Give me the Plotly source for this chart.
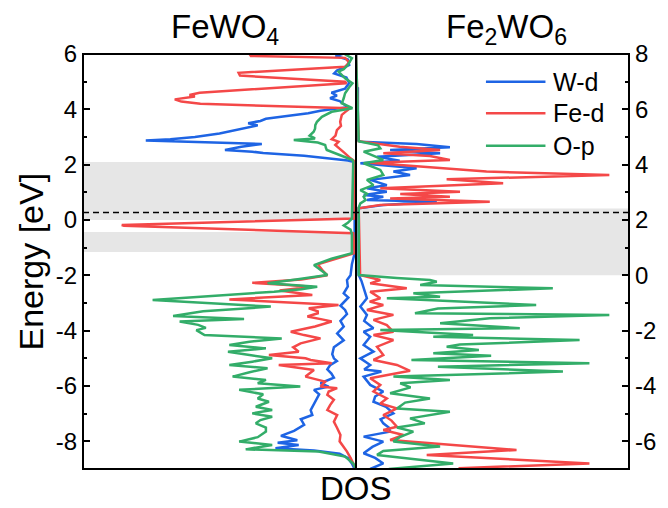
import plotly.graph_objects as go

FONT = "Liberation Sans, Arial, sans-serif"

# ---- FeWO4 (left panel, energies on the left axis) ----
fewo4_e_wd = [6.0, 5.93, 5.8, 5.6, 5.4, 5.3, 5.15, 4.95, 4.75, 4.6, 4.5, 4.4, 4.3, 4.15, 4.08, 3.95, 3.86, 3.75,
              3.66, 3.58, 3.5, 3.42, 3.31, 3.22, 3.13, 3.0, 2.92, 2.87, 2.82, 2.75, 2.65, 2.58, 2.53, 2.47, 2.42,
              2.32, 2.23, 2.15, 2.1,
              -1.2, -1.6, -2.0, -2.17, -2.4, -2.65, -2.8, -3.1, -3.25, -3.4, -3.65, -3.85, -4.1, -4.35, -4.6,
              -4.85, -5.0, -5.1, -5.25, -5.4, -5.55, -5.7, -5.9, -6.02, -6.14, -6.3, -6.5, -6.69, -6.87, -7.05,
              -7.2, -7.4, -7.62, -7.8, -7.96, -8.05, -8.13, -8.25, -8.33, -8.45, -8.6, -8.8, -9.0]
fewo4_dos_wd = [0.5, 0.75, 0.3, 0.25, 0.7, 0.8, 0.35, 0.25, 0.4, 0.9, 0.7, 0.95, 0.6, 0.4, 0.3, 1.3, 1.75, 2.6,
                3.3, 3.5, 3.95, 3.6, 4.15, 4.5, 5.0, 5.9, 6.8, 7.7, 5.5, 3.45, 4.2, 4.6, 4.8, 3.8, 3.4,
                1.9, 0.9, 0.3, 0.05,
                0.05, 0.15, 0.2, 0.33, 0.3, 0.45, 0.28, 0.57, 0.4, 0.33, 0.57, 0.45, 0.69, 0.45, 0.81,
                0.87, 0.81, 0.7, 0.95, 1.05, 0.9, 0.81, 1.3, 1.0, 1.54, 1.35, 1.45, 1.54, 1.66, 1.6,
                2.02, 1.9, 2.27, 2.75, 2.15, 2.87, 2.1, 2.95, 1.54, 0.6, 0.3, 0.15, 0.05]

fewo4_e_fed = [6.0, 5.93, 5.86, 5.7, 5.54, 5.32, 5.22, 5.0, 4.94, 4.6, 4.52, 4.46, 4.36, 4.28, 4.2, 4.04, 3.9,
               3.8, 3.55, 3.4, 3.25, 3.05, 2.92, 2.83, 2.71, 2.53, 2.41, 2.23, 2.12, 0.05, -0.18, -0.21, -0.48,
               -1.2, -1.6, -1.85, -2.0, -2.15, -2.27, -2.35, -2.41, -2.55, -2.71, -2.87, -3.07, -3.19, -3.3,
               -3.37, -3.49, -3.6, -3.67, -3.85, -4.04, -4.16, -4.28, -4.46, -4.6, -4.76, -4.88, -5.0, -5.06,
               -5.18, -5.24, -5.42, -5.55, -5.66, -5.84, -6.02, -6.08, -6.2, -6.32, -6.5, -6.69, -6.87, -7.05,
               -7.29, -7.5, -7.77, -8.0, -8.2, -8.37, -8.6, -8.9, -9.0]
fewo4_dos_fed = [3.9, 3.85, 0.4, 0.25, 0.4, 4.3, 4.25, 0.4, 0.35, 5.73, 6.1, 5.9, 6.64, 6.4, 5.7, 0.22, 0.4,
                 0.52, 0.58, 0.55, 0.7, 0.75, 0.89, 0.64, 0.76, 0.52, 0.4, 0.2, 0.05, 0.05, 8.58, 8.5, 0.1,
                 0.05, 1.4, 1.2, 1.05, 2.0, 3.8, 2.5, 1.6, 2.8, 1.6, 4.64, 0.64, 1.73, 1.4,
                 1.4, 1.78, 1.2, 0.89, 1.5, 2.39, 1.9, 1.3, 2.03, 2.3, 2.1, 3.19, 1.85, 1.66,
                 0.89, 2.83, 1.54, 1.7, 1.85, 1.13, 1.3, 0.69, 1.0, 1.05, 0.81, 0.95, 1.05, 0.69,
                 0.81, 0.7, 0.57, 0.6, 0.45, 0.33, 0.2, 0.05, 0.0]

fewo4_e_op = [6.0, 5.96, 5.85, 5.6, 5.45, 5.36, 5.12, 4.94, 4.8, 4.58, 4.4, 4.22, 4.04, 3.91, 3.73, 3.55, 3.43,
              3.3, 3.19, 3.05, 2.95, 2.89, 2.8, 2.71, 2.6, 2.53, 2.35, 2.17, 2.1, 0.05, -0.1, -0.2, -0.35, -0.5,
              -1.2, -1.4, -1.63, -1.8, -1.99, -2.15, -2.29, -2.41, -2.5, -2.59, -2.89, -3.13, -3.3, -3.47,
              -3.58, -3.67, -3.79, -3.9, -3.98, -4.16, -4.28, -4.4, -4.52, -4.64, -4.76, -4.88, -5.0, -5.12,
              -5.24, -5.36, -5.5, -5.66, -5.78, -5.9, -6.02, -6.14, -6.3, -6.45, -6.57, -6.75, -6.87, -6.99,
              -7.11, -7.23, -7.35, -7.5, -7.65, -7.85, -8.01, -8.13, -8.29, -8.37, -8.55, -8.8, -9.0]
fewo4_dos_op = [0.3, 0.35, 0.15, 0.3, 0.45, 0.64, 0.4, 0.13, 0.25, 0.4, 0.45, 0.52, 0.13, 0.89, 1.25, 1.43, 1.49,
                1.5, 1.55, 1.7, 1.5, 2.28, 1.4, 1.13, 1.1, 1.07, 0.6, 0.13, 0.1, 0.15, 0.3, 0.45, 0.2, 0.15,
                0.15, 0.9, 1.54, 1.3, 1.05, 2.2, 3.24, 1.42, 2.0, 3.0, 7.45, 3.12, 5.6, 6.7,
                4.1, 6.46, 5.78, 5.5, 5.85, 5.55, 2.72, 3.9, 4.64, 3.3, 4.69, 3.9, 3.07, 3.8,
                4.64, 3.24, 3.9, 4.52, 3.3, 3.6, 2.04, 4.28, 3.4, 3.6, 3.19, 3.67, 3.07, 3.8,
                3.07, 3.5, 3.67, 3.3, 3.3, 3.6, 4.28, 3.07, 4.04, 1.37, 0.4, 0.1, 0.0]

# ---- Fe2WO6 (right panel, energies on the right axis) ----
fe2wo6_e_wd = [8.0, 6.8, 6.76, 4.9, 4.83, 4.75, 4.63, 4.53, 4.41, 4.29, 4.14, 4.05, 3.87, 3.75, 3.63, 3.45, 3.26,
               3.15, 3.02, 2.9, 2.84, 2.72, 2.66, 2.54, 2.42, 0.01, -0.2, -0.47, -0.65, -0.83, -1.13, -1.43,
               -1.65, -1.91, -2.04, -2.22, -2.52, -2.76, -3.0, -3.24, -3.4, -3.48, -3.66, -3.96, -4.2, -4.38,
               -4.57, -4.75, -4.99, -5.2, -5.35, -5.5, -5.65, -5.83, -6.01, -6.2, -6.43, -6.6, -6.8, -7.0]
fe2wo6_dos_wd = [0.0, 0.0, 0.07, 0.07, 0.16, 2.22, 3.44, 1.25, 3.08, 0.77, 1.6, 0.16, 2.22, 1.37, 1.98, 0.52, 1.13,
                 0.4, 1.13, 0.28, 1.0, 0.4, 2.96, 1.0, 0.1, 0.1, 0.2, 0.28, 0.33, 0.4, 0.16, 0.4,
                 0.3, 0.64, 0.28, 0.52, 0.28, 0.64, 0.16, 0.52, 0.3, 0.93, 0.28, 0.52, 1.0, 0.7,
                 0.64, 1.1, 1.37, 0.9, 1.0, 1.2, 1.25, 0.28, 1.0, 0.6, 0.28, 0.7, 1.0, 0.52]

fe2wo6_e_fed = [8.0, 4.85, 4.65, 4.53, 4.41, 4.31, 4.17, 4.07, 3.75, 3.63, 3.47, 3.33, 3.15, 3.02, 2.94, 2.84,
                2.78, 2.66, 2.54, 2.42, 0.01, -0.17, -0.29, -0.47, -0.59, -0.83, -0.95, -1.07, -1.25, -1.43,
                -1.61, -1.8, -2.04, -2.16, -2.34, -2.58, -2.88, -3.06, -3.24, -3.45, -3.72, -3.96, -4.2, -4.45,
                -4.63, -4.81, -5.05, -5.25, -5.47, -5.59, -5.77, -5.95, -6.31, -6.49, -6.8, -6.97, -7.0]
fe2wo6_dos_fed = [0.0, 0.1, 1.6, 3.08, 1.0, 2.71, 3.44, 0.52, 4.78, 9.28, 3.32, 5.39, 0.89, 3.81, 1.62, 3.44,
                  1.25, 4.9, 0.89, 0.1, 0.15, 0.89, 0.52, 1.86, 0.52, 0.89, 0.5, 1.0, 0.4, 1.37,
                  0.64, 1.13, 1.37, 0.64, 1.37, 0.77, 1.0, 0.64, 1.5, 1.98, 0.52, 0.89, 0.64, 1.13,
                  0.89, 1.5, 1.0, 1.3, 1.5, 1.0, 1.74, 1.25, 5.88, 2.59, 8.55, 3.8, 3.8]

fe2wo6_e_op = [8.0, 4.85, 4.7, 4.59, 4.47, 4.3, 4.17, 4.05, 3.81, 3.63, 3.45, 3.26, 3.08, 2.95, 2.84, 2.72, 2.6,
               2.45, 0.01, -0.1, -0.17, -0.23, -0.35, -0.47, -0.65, -0.77, -0.83, -1.07, -1.2, -1.37, -1.43,
               -1.55, -1.73, -1.91, -1.98, -2.16, -2.22, -2.34, -2.5, -2.58, -2.7, -2.82, -2.91, -3.06, -3.18,
               -3.3, -3.48, -3.66, -3.78, -3.9, -4.05, -4.26, -4.45, -4.6, -4.81, -4.93, -5.17, -5.35, -5.5,
               -5.65, -5.85, -6.01, -6.19, -6.35, -6.49, -6.8, -7.0]
fe2wo6_dos_op = [0.0, 0.1, 0.81, 0.89, 0.28, 0.7, 1.0, 0.28, 0.89, 1.0, 0.4, 0.64, 0.16, 0.4, 0.28, 0.35, 0.16,
                 0.1, 0.1, 1.5, 2.71, 2.96, 2.35, 7.21, 2.1, 3.08, 1.13, 6.6, 3.0, 2.16, 9.28,
                 4.9, 3.08, 6.0, 0.89, 4.29, 2.83, 8.19, 3.8, 3.32, 4.5, 2.83, 4.95, 2.03, 8.55,
                 3.0, 7.58, 1.37, 3.44, 1.62, 2.0, 1.25, 2.71, 1.8, 1.5, 3.44, 1.98, 2.52, 1.5,
                 2.1, 1.6, 1.37, 3.08, 1.0, 0.77, 3.56, 1.2]

# band gaps (grey) and Fermi level (dashed), in each panel's own energy scale
fewo4_gaps = [(0.0, 2.1), (-1.16, -0.43)]
fe2wo6_gaps = [(0.0, 2.42)]
fermi_level_left = 0.27

left_ticks = [-8, -6, -4, -2, 0, 2, 4, 6]
left_minor = [-9, -7, -5, -3, -1, 1, 3, 5]
right_ticks = [-6, -4, -2, 0, 2, 4, 6, 8]
right_minor = [-7, -5, -3, -1, 1, 3, 5, 7]

names = ["W-d", "Fe-d", "O-p"]
colors = {"W-d": "#1e64e4", "Fe-d": "#f44848", "O-p": "#33ad69"}
LINE_W = 2.5

left_series = [(fewo4_e_wd, fewo4_dos_wd), (fewo4_e_fed, fewo4_dos_fed), (fewo4_e_op, fewo4_dos_op)]
right_series = [(fe2wo6_e_wd, fe2wo6_dos_wd), (fe2wo6_e_fed, fe2wo6_dos_fed), (fe2wo6_e_op, fe2wo6_dos_op)]

fig = go.Figure()
for name, (e, d) in zip(names, left_series):
    fig.add_trace(go.Scatter(x=d, y=e, mode="lines", name=name, xaxis="x", yaxis="y",
                             line=dict(color=colors[name], width=LINE_W), showlegend=False))
for name, (e, d) in zip(names, right_series):
    fig.add_trace(go.Scatter(x=d, y=e, mode="lines", name=name, xaxis="x2", yaxis="y2",
                             line=dict(color=colors[name], width=LINE_W), showlegend=False))

shapes = []
for y0, y1 in fewo4_gaps:
    shapes.append(dict(type="rect", xref="x domain", yref="y", x0=0, x1=1, y0=y0, y1=y1,
                       fillcolor="#e6e6e6", line=dict(width=0), layer="below"))
for y0, y1 in fe2wo6_gaps:
    shapes.append(dict(type="rect", xref="x2 domain", yref="y2", x0=0, x1=1, y0=y0, y1=y1,
                       fillcolor="#e6e6e6", line=dict(width=0), layer="below"))
shapes.append(dict(type="line", xref="paper", yref="y", x0=0, x1=1, y0=fermi_level_left, y1=fermi_level_left,
                   line=dict(color="black", width=1.5, dash="6px,4px")))
# frame and panel divider
shapes.append(dict(type="rect", xref="paper", yref="paper", x0=0, x1=1, y0=0, y1=1,
                   line=dict(color="black", width=2)))
shapes.append(dict(type="line", xref="paper", yref="paper", x0=0.5, x1=0.5, y0=0, y1=1,
                   line=dict(color="black", width=2)))

# legend drawn as line samples with labels
legend_y = [0.933, 0.857, 0.779]
annotations = []
for name, ly in zip(names, legend_y):
    shapes.append(dict(type="line", xref="paper", yref="paper", x0=0.738, x1=0.847, y0=ly, y1=ly,
                       line=dict(color=colors[name], width=LINE_W)))
    annotations.append(dict(xref="paper", yref="paper", x=0.858, y=ly, text=name, showarrow=False,
                            xanchor="left", yanchor="middle", font=dict(size=25, family=FONT, color="black")))

annotations += [
    dict(xref="paper", yref="paper", x=0.26, y=1.06, text="FeWO<sub>4</sub>", showarrow=False,
         xanchor="center", yanchor="middle", font=dict(size=33, family=FONT, color="black")),
    dict(xref="paper", yref="paper", x=0.776, y=1.06, text="Fe<sub>2</sub>WO<sub>6</sub>", showarrow=False,
         xanchor="center", yanchor="middle", font=dict(size=33, family=FONT, color="black")),
    dict(xref="paper", yref="paper", x=0.5, y=-0.047, text="DOS", showarrow=False,
         xanchor="center", yanchor="middle", font=dict(size=33, family=FONT, color="black")),
    dict(xref="paper", yref="paper", x=-0.097, y=0.5, text="Energy [eV]", showarrow=False, textangle=-90,
         xanchor="center", yanchor="middle", font=dict(size=34, family=FONT, color="black")),
]

xa = dict(showticklabels=False, ticks="", showgrid=False, zeroline=False, showline=False, fixedrange=True)
ya = dict(tickmode="array", ticks="inside", ticklen=7, tickwidth=2, tickcolor="black",
          showgrid=False, zeroline=False, showline=False, ticklabelstandoff=5,
          tickfont=dict(size=24, family=FONT, color="black"))

fig.update_layout(
    width=668, height=508,
    margin=dict(l=83, r=36, t=54, b=39),
    paper_bgcolor="white", plot_bgcolor="white",
    xaxis=dict(domain=[0, 0.5], range=[10, 0], anchor="y", **xa),
    xaxis2=dict(domain=[0.5, 1], range=[0, 10], anchor="y2", **xa),
    yaxis=dict(range=[-9, 6], anchor="x", side="left", tickvals=left_ticks,
               ticktext=[str(v) for v in left_ticks],
               minor=dict(tickmode="array", tickvals=left_minor, ticks="inside", ticklen=4, tickwidth=2,
                          tickcolor="black"), **ya),
    yaxis2=dict(range=[-7, 8], anchor="x2", side="right", tickvals=right_ticks,
                ticktext=[str(v) for v in right_ticks],
                minor=dict(tickmode="array", tickvals=right_minor, ticks="inside", ticklen=4, tickwidth=2,
                           tickcolor="black"), **ya),
    shapes=shapes,
    annotations=annotations,
)

fig.write_html("out.html")
